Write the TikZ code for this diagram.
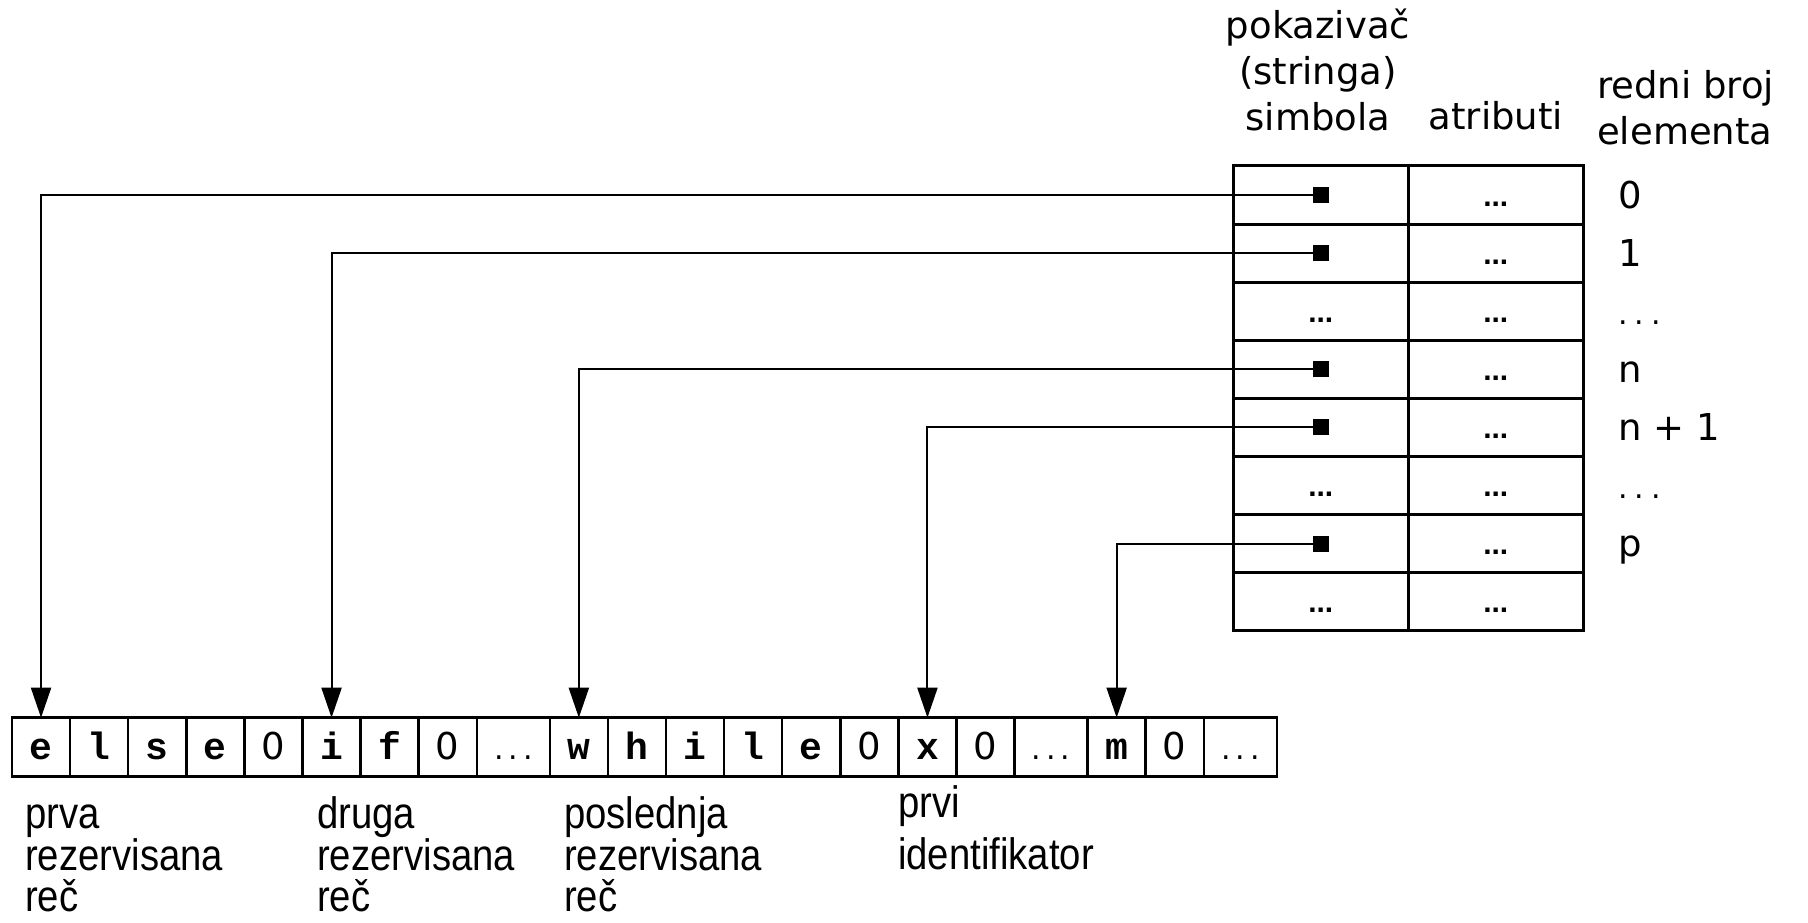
\documentclass[tikz,border=0pt]{standalone}
\usepackage{fontspec}
\setmainfont{DejaVu Sans}
\newfontfamily\labelfont{Liberation Sans}
\newfontfamily\narrowfont[FakeStretch=0.87]{Liberation Sans}
\newfontfamily\codefont{Liberation Mono}
\usetikzlibrary{arrows.meta}
% spaced ellipsis made of three full stops
\newcommand\spdots{.\kern5pt.\kern5pt.}
\newcommand\wdots{.\kern7pt.\kern7pt.}
% fixed height for the first line of a caption
\newcommand\capstrut{\rule{0pt}{36pt}}

\begin{document}
\begin{tikzpicture}[x=1pt, y=-1pt,
  tcell/.style={draw, line width=3pt, inner sep=0pt, outer sep=0pt,
    minimum width=175pt, minimum height=58.1pt, text height=22pt, text depth=0pt,
    font=\labelfont\bfseries\fontsize{30}{30}\selectfont},
  ptrsq/.style={fill=black, inner sep=0pt, minimum size=16pt},
  scell/.style={draw, line width=2.5pt, inner sep=0pt, outer sep=0pt,
    minimum width=58.1pt, minimum height=59pt, text height=24pt, text depth=0pt},
  chr/.style={scell, font=\codefont\bfseries\fontsize{38}{38}\selectfont},
  nul/.style={scell, font=\fontsize{37}{37}\selectfont},
  gap/.style={scell, minimum width=73pt, font=\fontsize{30}{30}\selectfont},
  link/.style={line width=2pt, -{Triangle[length=30pt,width=20pt]}},
  head/.style={inner sep=0pt, font=\fontsize{37}{46}\selectfont},
  idx/.style={inner sep=0pt, anchor=base west, font=\fontsize{37}{46}\selectfont},
  note/.style={inner sep=0pt, anchor=north west, align=left,
    font=\narrowfont\fontsize{44}{41.5}\selectfont}
]
\useasboundingbox (0,0) rectangle (1808,923);

% column headings
\node[head, anchor=north, align=center] (hptr) at (1318,5.8)
  {\strut pokaziva\v{c}\\(stringa)\\simbola};
\node[head, anchor=base] (hatt) at (1495.8,130) {atributi};
\node[head, anchor=north west, align=left] (hidx) at (1597,65.8)
  {\strut redni broj\\elementa};

% symbol table: pointer column and attribute column
\node[tcell] (p0) at (1320.8,195.05) {};
\node[tcell] (p1) at (1320.8,253.15) {};
\node[tcell] (p2) at (1320.8,311.25) {...};
\node[tcell] (p3) at (1320.8,369.35) {};
\node[tcell] (p4) at (1320.8,427.45) {};
\node[tcell] (p5) at (1320.8,485.55) {...};
\node[tcell] (p6) at (1320.8,543.65) {};
\node[tcell] (p7) at (1320.8,601.75) {...};
\foreach \r/\y in {0/195.05,1/253.15,2/311.25,3/369.35,4/427.45,5/485.55,6/543.65,7/601.75}
  \node[tcell] (a\r) at (1495.8,\y) {...};

% element numbers
\node[idx] (n0) at (1618,208.05) {0};
\node[idx] (n1) at (1618,266.15) {1};
\node[idx] (n2) at (1618,324.25) {\fontsize{30}{30}\selectfont\wdots};
\node[idx] (n3) at (1618,382.35) {n};
\node[idx] (n4) at (1618,440.45) {n + 1};
\node[idx] (n5) at (1618,498.55) {\fontsize{30}{30}\selectfont\wdots};
\node[idx] (n6) at (1618,556.65) {p};

% string storage
\node[chr] (s1)  at (41.05,747.2)  {e};
\node[chr] (s2)  at (99.15,747.2)  {l};
\node[chr] (s3)  at (157.25,747.2) {s};
\node[chr] (s4)  at (215.35,747.2) {e};
\node[nul] (s5)  at (273.45,747.2) {0};
\node[chr] (s6)  at (331.55,747.2) {i};
\node[chr] (s7)  at (389.65,747.2) {f};
\node[nul] (s8)  at (447.75,747.2) {0};
\node[gap] (s9)  at (513.3,747.2)  {\spdots};
\node[chr] (s10) at (578.85,747.2) {w};
\node[chr] (s11) at (636.95,747.2) {h};
\node[chr] (s12) at (695.05,747.2) {i};
\node[chr] (s13) at (753.15,747.2) {l};
\node[chr] (s14) at (811.25,747.2) {e};
\node[nul] (s15) at (869.35,747.2) {0};
\node[chr] (s16) at (927.45,747.2) {x};
\node[nul] (s17) at (985.55,747.2) {0};
\node[gap] (s18) at (1051.1,747.2) {\spdots};
\node[chr] (s19) at (1116.65,747.2) {m};
\node[nul] (s20) at (1174.75,747.2) {0};
\node[gap] (s21) at (1240.3,747.2) {\spdots};

% pointers into the string storage
\draw[link] (1321,195.05) coordinate (c0) -| (s1.north);
\draw[link] (1321,253.15) coordinate (c1) -| (s6.north);
\draw[link] (1321,369.35) coordinate (c3) -| (s10.north);
\draw[link] (1321,427.45) coordinate (c4) -| (s16.north);
\draw[link] (1321,543.65) coordinate (c6) -| (s19.north);
\node[ptrsq] (q0) at (c0) {};
\node[ptrsq] (q1) at (c1) {};
\node[ptrsq] (q3) at (c3) {};
\node[ptrsq] (q4) at (c4) {};
\node[ptrsq] (q6) at (c6) {};

% captions under the storage
\node[note] (l1) at (25,792.6)  {\capstrut prva\\rezervisana\\re\v{c}};
\node[note] (l2) at (317,792.6) {\capstrut druga\\rezervisana\\re\v{c}};
\node[note] (l3) at (564,792.6) {\capstrut poslednja\\rezervisana\\re\v{c}};
\node[note, font=\narrowfont\fontsize{44}{52}\selectfont] (l4) at (898,781)
  {\capstrut prvi\\identifikator};
\end{tikzpicture}
\end{document}
